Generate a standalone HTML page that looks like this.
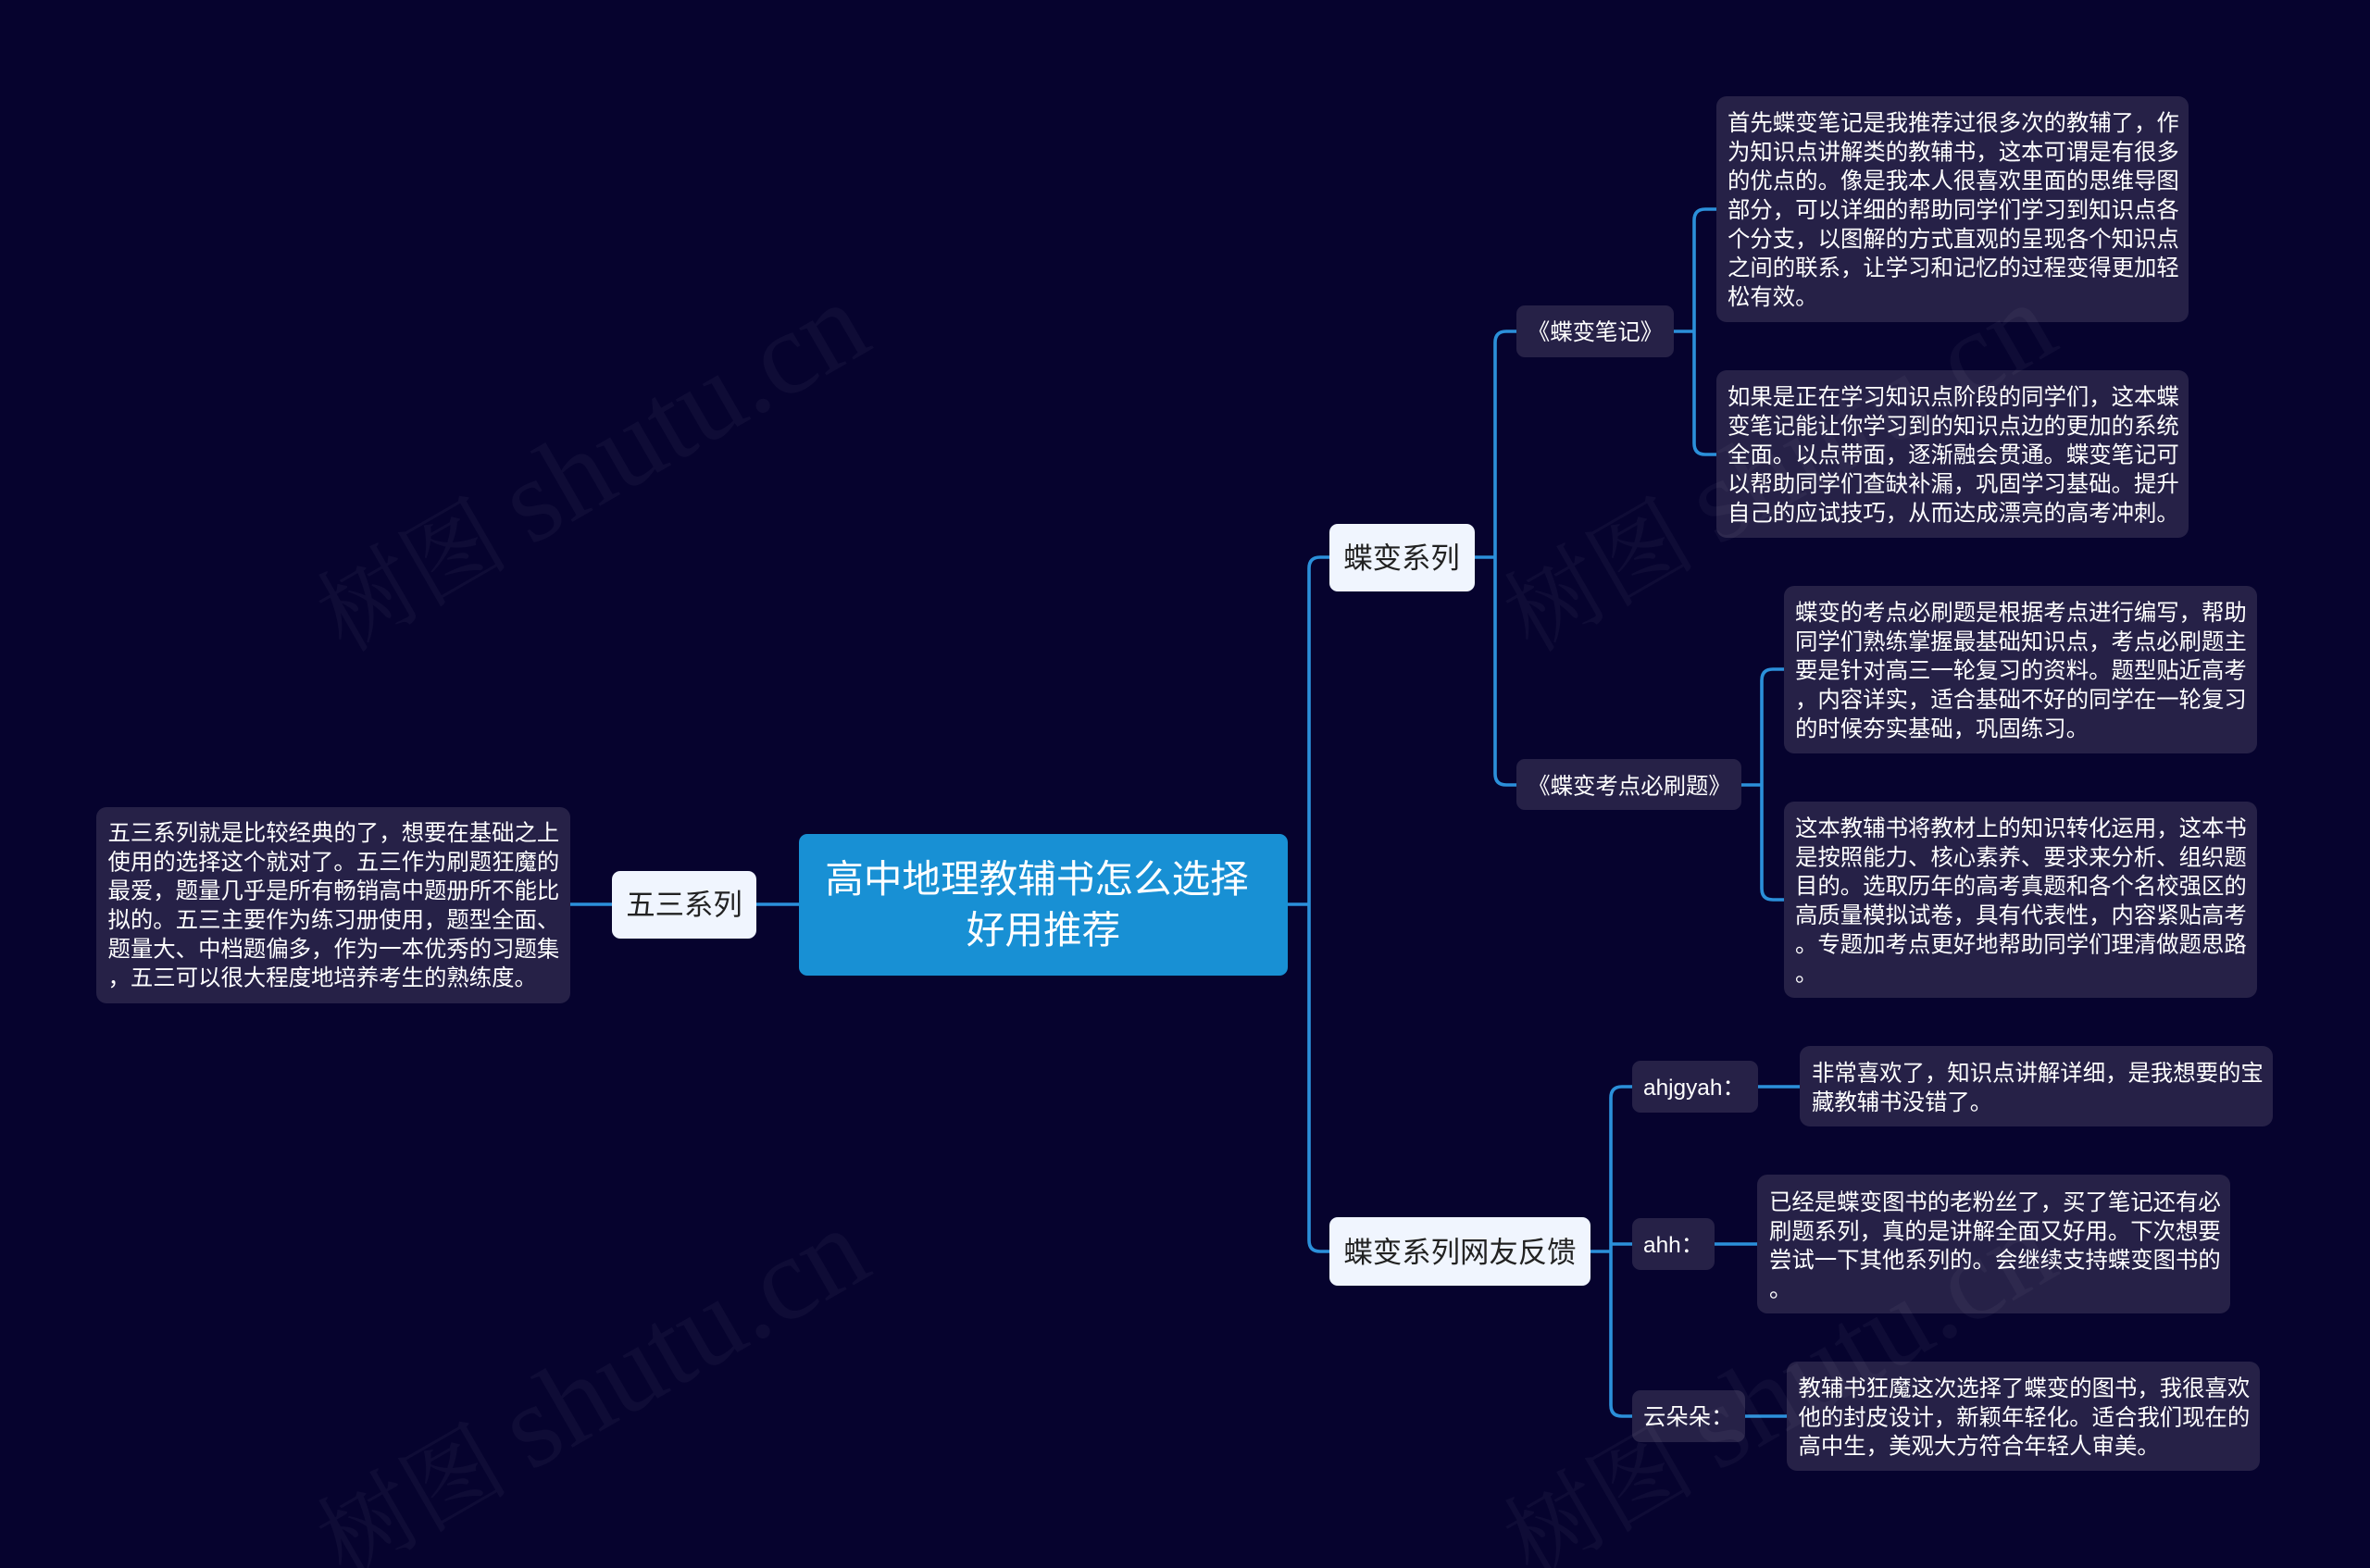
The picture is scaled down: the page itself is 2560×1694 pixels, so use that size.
<!DOCTYPE html>
<html lang="zh"><head><meta charset="utf-8"><title>高中地理教辅书怎么选择好用推荐</title>
<style>
html,body{margin:0;padding:0;background:#06032e;width:2560px;height:1694px;overflow:hidden}
svg{display:block}
text{font-family:"Liberation Sans","Noto Sans CJK SC",sans-serif;white-space:pre}
.t{font-size:24.4px;fill:#fff}
.n{font-size:24.4px;fill:#fff;text-anchor:middle}
.d{font-size:31.4px;fill:#222;text-anchor:middle}
.r{font-size:41.6px;fill:#fff;text-anchor:middle}
.b{fill:#262147}
.w{fill:#f0f5fe}
path.l{fill:none;stroke:#2b90da;stroke-width:3.6}
.m text{font-family:"Liberation Serif","Noto Serif CJK SC",serif;fill:#fff;fill-opacity:.04}
</style></head><body>
<svg width="2560" height="1694" viewBox="0 0 2560 1694" xmlns="http://www.w3.org/2000/svg">
<rect width="2560" height="1694" fill="#06032e"/>
<path class="l" d="M616 977H661M817 977H863M1391 977H1414M1436 602H1426Q1414 602 1414 614V1340Q1414 1352 1426 1352H1436"/>
<path class="l" d="M1593 602H1615M1638 358H1627Q1615 358 1615 370V836Q1615 848 1627 848H1638"/>
<path class="l" d="M1808 358H1830M1854 226H1842Q1830 226 1830 238V479Q1830 491 1842 491H1854"/>
<path class="l" d="M1881 848H1903M1927 723H1915Q1903 723 1903 735V960Q1903 972 1915 972H1927"/>
<path class="l" d="M1718 1352H1740M1763 1174H1752Q1740 1174 1740 1186V1518Q1740 1530 1752 1530H1763M1740 1344H1763"/>
<path class="l" d="M1899 1174H1944M1852 1344H1898M1885 1530H1930"/>

<rect x="863" y="901" width="528" height="153" rx="9" fill="#1890d4"/>
<text class="r" x="1120" y="964">高中地理教辅书怎么选择</text>
<text class="r" x="1127" y="1019">好用推荐</text>

<rect class="w" x="661" y="941" width="156" height="73" rx="9"/>
<text class="d" x="739" y="988">五三系列</text>
<rect class="w" x="1436" y="566" width="157" height="73" rx="9"/>
<text class="d" x="1514" y="613.5">蝶变系列</text>
<rect class="w" x="1436" y="1315" width="282" height="74" rx="9"/>
<text class="d" x="1577" y="1363.5">蝶变系列网友反馈</text>

<rect class="b" x="1638" y="330" width="170" height="56" rx="9"/>
<text class="n" x="1723" y="367">《蝶变笔记》</text>
<rect class="b" x="1638" y="820" width="243" height="55" rx="9"/>
<text class="n" x="1760" y="857.5">《蝶变考点必刷题》</text>
<rect class="b" x="1763" y="1146" width="136" height="56" rx="9"/>
<text class="t" x="1775" y="1183">ahjgyah：</text>
<rect class="b" x="1763" y="1316" width="89" height="56" rx="9"/>
<text class="t" x="1775" y="1353">ahh：</text>
<rect class="b" x="1763" y="1502" width="122" height="56" rx="9"/>
<text class="t" x="1775" y="1539">云朵朵：</text>

<rect class="b" x="1854" y="104" width="510" height="244" rx="11"/>
<text class="t" x="1866" y="141">首先蝶变笔记是我推荐过很多次的教辅了，作</text>
<text class="t" x="1866" y="172.3">为知识点讲解类的教辅书，这本可谓是有很多</text>
<text class="t" x="1866" y="203.7">的优点的。像是我本人很喜欢里面的思维导图</text>
<text class="t" x="1866" y="235">部分，可以详细的帮助同学们学习到知识点各</text>
<text class="t" x="1866" y="266.4">个分支，以图解的方式直观的呈现各个知识点</text>
<text class="t" x="1866" y="297.7">之间的联系，让学习和记忆的过程变得更加轻</text>
<text class="t" x="1866" y="329.1">松有效。</text>

<rect class="b" x="1854" y="400" width="510" height="181" rx="11"/>
<text class="t" x="1866" y="437">如果是正在学习知识点阶段的同学们，这本蝶</text>
<text class="t" x="1866" y="468.3">变笔记能让你学习到的知识点边的更加的系统</text>
<text class="t" x="1866" y="499.7">全面。以点带面，逐渐融会贯通。蝶变笔记可</text>
<text class="t" x="1866" y="531">以帮助同学们查缺补漏，巩固学习基础。提升</text>
<text class="t" x="1866" y="562.4">自己的应试技巧，从而达成漂亮的高考冲刺。</text>

<rect class="b" x="1927" y="633" width="511" height="181" rx="11"/>
<text class="t" x="1939" y="670">蝶变的考点必刷题是根据考点进行编写，帮助</text>
<text class="t" x="1939" y="701.3">同学们熟练掌握最基础知识点，考点必刷题主</text>
<text class="t" x="1939" y="732.7">要是针对高三一轮复习的资料。题型贴近高考</text>
<text class="t" x="1939" y="764">，内容详实，适合基础不好的同学在一轮复习</text>
<text class="t" x="1939" y="795.4">的时候夯实基础，巩固练习。</text>

<rect class="b" x="1927" y="866" width="511" height="212" rx="11"/>
<text class="t" x="1939" y="903">这本教辅书将教材上的知识转化运用，这本书</text>
<text class="t" x="1939" y="934.3">是按照能力、核心素养、要求来分析、组织题</text>
<text class="t" x="1939" y="965.7">目的。选取历年的高考真题和各个名校强区的</text>
<text class="t" x="1939" y="997">高质量模拟试卷，具有代表性，内容紧贴高考</text>
<text class="t" x="1939" y="1028.4">。专题加考点更好地帮助同学们理清做题思路</text>
<text class="t" x="1939" y="1059.8">。</text>

<rect class="b" x="1944" y="1130" width="511" height="87" rx="11"/>
<text class="t" x="1957" y="1167.5">非常喜欢了，知识点讲解详细，是我想要的宝</text>
<text class="t" x="1957" y="1198.8">藏教辅书没错了。</text>

<rect class="b" x="1898" y="1269" width="511" height="150" rx="11"/>
<text class="t" x="1911" y="1307">已经是蝶变图书的老粉丝了，买了笔记还有必</text>
<text class="t" x="1911" y="1338.3">刷题系列，真的是讲解全面又好用。下次想要</text>
<text class="t" x="1911" y="1369.7">尝试一下其他系列的。会继续支持蝶变图书的</text>
<text class="t" x="1911" y="1401">。</text>

<rect class="b" x="1930" y="1471" width="511" height="118" rx="11"/>
<text class="t" x="1942.5" y="1508">教辅书狂魔这次选择了蝶变的图书，我很喜欢</text>
<text class="t" x="1942.5" y="1539.3">他的封皮设计，新颖年轻化。适合我们现在的</text>
<text class="t" x="1942.5" y="1570.7">高中生，美观大方符合年轻人审美。</text>

<rect class="b" x="104" y="872" width="512" height="212" rx="11"/>
<text class="t" x="116.5" y="908">五三系列就是比较经典的了，想要在基础之上</text>
<text class="t" x="116.5" y="939.3">使用的选择这个就对了。五三作为刷题狂魔的</text>
<text class="t" x="116.5" y="970.7">最爱，题量几乎是所有畅销高中题册所不能比</text>
<text class="t" x="116.5" y="1002">拟的。五三主要作为练习册使用，题型全面、</text>
<text class="t" x="116.5" y="1033.4">题量大、中档题偏多，作为一本优秀的习题集</text>
<text class="t" x="116.5" y="1064.7">，五三可以很大程度地培养考生的熟练度。</text>

<g class="m">
<g transform="translate(372 706) rotate(-30)"><text font-size="104" x="0" y="0">树图</text><text font-size="128" x="232" y="0">shutu.cn</text></g>
<g transform="translate(1654 706) rotate(-30)"><text font-size="104" x="0" y="0">树图</text><text font-size="128" x="232" y="0">shutu.cn</text></g>
<g transform="translate(372 1706) rotate(-30)"><text font-size="104" x="0" y="0">树图</text><text font-size="128" x="232" y="0">shutu.cn</text></g>
<g transform="translate(1654 1706) rotate(-30)"><text font-size="104" x="0" y="0">树图</text><text font-size="128" x="232" y="0">shutu.cn</text></g>
</g>
</svg>
</body></html>
